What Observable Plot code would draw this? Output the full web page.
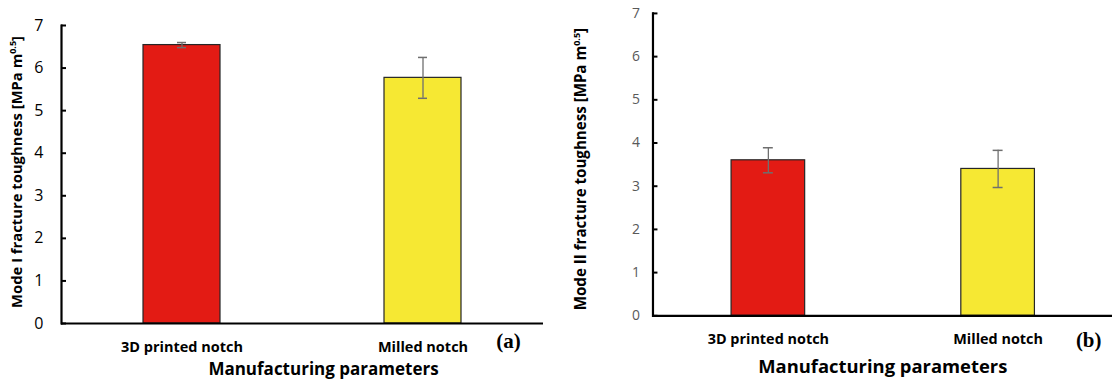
<!DOCTYPE html>
<html>
<head>
<meta charset="utf-8">
<script src="https://cdn.jsdelivr.net/npm/d3@7"></script>
<script src="https://cdn.jsdelivr.net/npm/@observablehq/plot@0.6"></script>
<style>
  html, body { margin: 0; padding: 0; background: #fff; overflow: hidden; }
  #wrap { position: relative; width: 1112px; height: 387px; }
  #wrap > div { position: absolute; top: 0; }
</style>
</head>
<body>
<div id="wrap"><div id="pa" style="left:0"></div><div id="pb" style="left:556px"></div></div>
<script>
// ---- data ----
const categories = ["3D printed notch", "Milled notch"];
const barColors = ["#E31B14", "#F6E833"];
const modeIValues = [6.54, 5.77];
const modeIErrors = [0.06, 0.48];
const modeIIValues = [3.60, 3.40];
const modeIIErrors = [0.29, 0.43];
const yTicks = [0, 1, 2, 3, 4, 5, 6, 7];
const xTitle = "Manufacturing parameters";
const yTitleI = ["Mode I fracture toughness [MPa m", "0.5", "]"];
const yTitleII = ["Mode II fracture toughness [MPa m", "0.5", "]"];
const panelTags = ["(a)", "(b)"];

function makePanel(values, errors, cfg) {
  const rows = categories.map((c, i) => ({cat: c, v: values[i], e: errors[i], color: barColors[i]}));
  const capInset = (cfg.bandwidth - 9) / 2;
  const chart = Plot.plot({
    width: cfg.width, height: 387,
    marginLeft: cfg.ml, marginRight: cfg.mr, marginTop: cfg.mt, marginBottom: cfg.mb,
    style: {fontFamily: "'Open Sans', sans-serif", background: "transparent", overflow: "visible"},
    x: {domain: categories, paddingInner: 0.68, paddingOuter: 0.34, label: null},
    y: {domain: [0, 7], label: null},
    marks: [
      Plot.barY(rows, {x: "cat", y: "v", fill: "color", stroke: "#262626", strokeWidth: 1.2}),
      Plot.ruleX(rows, {x: "cat", y1: d => d.v - d.e, y2: d => d.v + d.e, stroke: "#6f6f6f", strokeWidth: 1.3}),
      Plot.tickY(rows, {x: "cat", y: d => d.v - d.e, stroke: "#6f6f6f", strokeWidth: 1.5, insetLeft: capInset, insetRight: capInset}),
      Plot.tickY(rows, {x: "cat", y: d => d.v + d.e, stroke: "#6f6f6f", strokeWidth: 1.5, insetLeft: capInset, insetRight: capInset}),
      Plot.ruleY([0], {stroke: "#000", strokeWidth: 2.2}),
      Plot.frame({anchor: "left", stroke: "#000", strokeWidth: 2.2}),
      Plot.axisY(yTicks, {tickSize: -5, tickPadding: cfg.tickPad, fontSize: cfg.yFont, fill: cfg.yColor, stroke: "#000", strokeWidth: 2, label: null, tickFormat: d => String(d)}),
      Plot.axisX({tickSize: 0, tickPadding: 18, fontSize: 14.5, fontWeight: "bold", fill: "#000", label: null}),
      Plot.text([xTitle], {frameAnchor: "bottom", dx: cfg.titleDx, dy: cfg.titleDy, fontSize: cfg.titleFont, fontWeight: "bold", fill: "#000"}),
      Plot.text([cfg.tag], {frameAnchor: "bottom-right", dx: cfg.tagDx, dy: cfg.tagDy, fontSize: 21, fontWeight: "bold", fontFamily: "'Liberation Serif', 'Times New Roman', serif", fill: "#000", textAnchor: "middle"})
    ]
  });
  const svg = d3.select(chart.tagName.toLowerCase() === "svg" ? chart : chart.querySelector("svg"));
  const t = svg.append("text")
    .attr("transform", `translate(${cfg.yTitleX},${cfg.yTitleY}) rotate(-90)`)
    .attr("text-anchor", "middle")
    .attr("font-family", "'Open Sans', sans-serif")
    .attr("font-weight", "bold")
    .attr("font-size", cfg.yTitleFont)
    .attr("fill", "#000");
  t.append("tspan").text(cfg.yTitle[0]);
  t.append("tspan").attr("font-size", 9).attr("dy", -6).text(cfg.yTitle[1]);
  t.append("tspan").attr("dy", 6).text(cfg.yTitle[2]);
  return chart;
}

document.getElementById("pa").appendChild(makePanel(modeIValues, modeIErrors, {
  width: 556, ml: 61, mr: 13, mt: 25, mb: 64, bandwidth: 77,
  tickPad: 23, yFont: 16, yColor: "#000",
  titleDx: 21, titleDy: 51.5, titleFont: 17, tag: panelTags[0], tagDx: -35, tagDy: 24,
  yTitle: yTitleI, yTitleX: 22, yTitleY: 172, yTitleFont: 14.8
}));
document.getElementById("pb").appendChild(makePanel(modeIIValues, modeIIErrors, {
  width: 559, ml: 97, mr: 0, mt: 13, mb: 70, bandwidth: 73,
  tickPad: 18, yFont: 14, yColor: "#595959",
  titleDx: 0, titleDy: 58, titleFont: 18.5, tag: panelTags[1], tagDx: -24, tagDy: 31,
  yTitle: yTitleII, yTitleX: 30.5, yTitleY: 170, yTitleFont: 15.2
}));
</script>
</body>
</html>
